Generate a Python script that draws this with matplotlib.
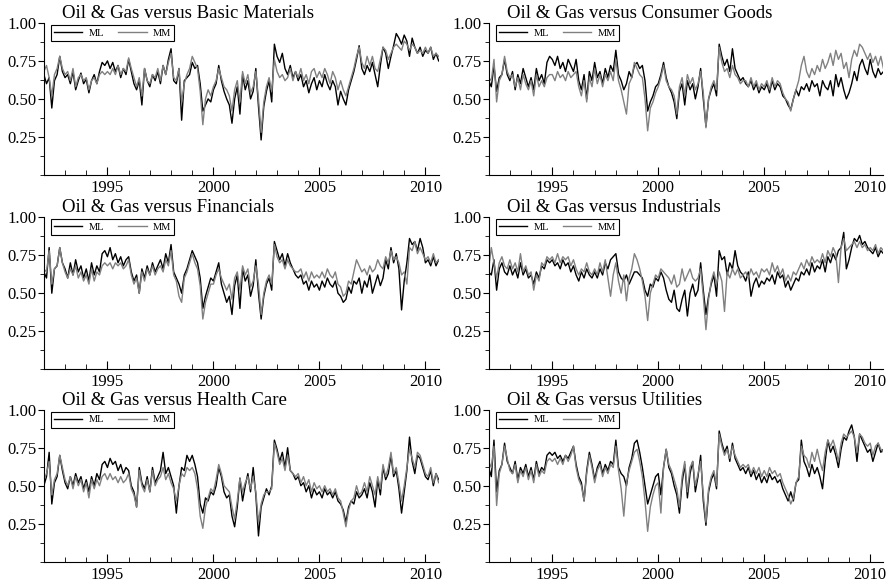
'''
Oil & Gas sector correlation plot

Plot the ML and MM estimates of the correlation between the Oil & Gas
sector and other sectors, one panel per sector pair.
'''

# -----------------------------------------------------------------------------------------------------------------------
# Modules

from matplotlib import pyplot as plt
from matplotlib.ticker import MultipleLocator
import numpy as np

# -----------------------------------------------------------------------------------------------------------------------
# Data (one value every 1/8 year, from 1992.0)

start_year = 1992.0
step = 0.125

sectors = ['Basic Materials', 'Consumer Goods', 'Financials',
           'Industrials', 'Health Care', 'Utilities']

basic_ml = [
    0.66, 0.60, 0.64, 0.44, 0.62, 0.66, 0.78, 0.68,
    0.64, 0.66, 0.60, 0.68, 0.56, 0.62, 0.67, 0.60,
    0.63, 0.54, 0.62, 0.66, 0.60, 0.68, 0.74, 0.72,
    0.75, 0.70, 0.74, 0.68, 0.72, 0.64, 0.70, 0.66,
    0.76, 0.68, 0.60, 0.56, 0.62, 0.46, 0.70, 0.62,
    0.58, 0.66, 0.62, 0.68, 0.60, 0.72, 0.66, 0.76,
    0.83, 0.62, 0.60, 0.70, 0.36, 0.62, 0.64, 0.66,
    0.74, 0.70, 0.72, 0.60, 0.42, 0.46, 0.50, 0.48,
    0.56, 0.60, 0.72, 0.62, 0.55, 0.50, 0.46, 0.34,
    0.50, 0.58, 0.40, 0.66, 0.56, 0.62, 0.50, 0.55,
    0.70, 0.45, 0.23, 0.45, 0.55, 0.62, 0.48, 0.86,
    0.78, 0.74, 0.80, 0.70, 0.66, 0.72, 0.64, 0.68,
    0.62, 0.66, 0.58, 0.62, 0.54, 0.60, 0.64, 0.56,
    0.62, 0.58, 0.66, 0.60, 0.56, 0.62, 0.58, 0.46,
    0.55, 0.50, 0.46, 0.56, 0.62, 0.68, 0.76, 0.85,
    0.70, 0.66, 0.72, 0.68, 0.74, 0.66, 0.58, 0.72,
    0.84, 0.80, 0.70, 0.78, 0.85, 0.93, 0.90, 0.86,
    0.92, 0.88, 0.78, 0.90, 0.84, 0.80, 0.84, 0.78,
    0.82, 0.80, 0.84, 0.76, 0.80, 0.75]
basic_mm = [
    0.68, 0.72, 0.64, 0.52, 0.66, 0.70, 0.78, 0.70,
    0.66, 0.68, 0.62, 0.70, 0.58, 0.64, 0.66, 0.62,
    0.64, 0.56, 0.62, 0.64, 0.60, 0.66, 0.68, 0.66,
    0.68, 0.66, 0.70, 0.66, 0.72, 0.66, 0.70, 0.68,
    0.77, 0.70, 0.64, 0.58, 0.64, 0.52, 0.70, 0.62,
    0.60, 0.66, 0.64, 0.70, 0.62, 0.72, 0.66, 0.74,
    0.80, 0.64, 0.62, 0.70, 0.48, 0.60, 0.66, 0.70,
    0.78, 0.74, 0.70, 0.55, 0.33, 0.50, 0.56, 0.52,
    0.58, 0.62, 0.70, 0.64, 0.58, 0.56, 0.52, 0.42,
    0.56, 0.62, 0.48, 0.68, 0.60, 0.66, 0.54, 0.58,
    0.68, 0.50, 0.28, 0.48, 0.58, 0.64, 0.55, 0.76,
    0.68, 0.64, 0.66, 0.62, 0.64, 0.70, 0.62, 0.68,
    0.64, 0.70, 0.62, 0.66, 0.60, 0.68, 0.70, 0.64,
    0.68, 0.64, 0.70, 0.66, 0.60, 0.68, 0.64, 0.56,
    0.62, 0.56, 0.52, 0.58, 0.64, 0.70, 0.78, 0.84,
    0.74, 0.70, 0.78, 0.72, 0.78, 0.70, 0.68, 0.76,
    0.84, 0.82, 0.76, 0.80, 0.84, 0.86, 0.84, 0.82,
    0.88, 0.86, 0.82, 0.86, 0.84, 0.80, 0.82, 0.80,
    0.84, 0.80, 0.84, 0.78, 0.80, 0.78]

consumer_ml = [
    0.62, 0.58, 0.72, 0.55, 0.64, 0.66, 0.76, 0.66,
    0.62, 0.68, 0.56, 0.66, 0.60, 0.70, 0.64, 0.58,
    0.64, 0.56, 0.70, 0.62, 0.66, 0.60, 0.74, 0.78,
    0.76, 0.72, 0.78, 0.70, 0.74, 0.68, 0.76, 0.72,
    0.68, 0.76, 0.62, 0.56, 0.66, 0.50, 0.68, 0.62,
    0.74, 0.64, 0.68, 0.60, 0.70, 0.64, 0.72, 0.68,
    0.82, 0.66, 0.62, 0.56, 0.60, 0.68, 0.64, 0.72,
    0.74, 0.70, 0.72, 0.62, 0.42, 0.48, 0.52, 0.58,
    0.60, 0.66, 0.74, 0.64, 0.58, 0.54, 0.48, 0.37,
    0.55, 0.60, 0.46, 0.62, 0.56, 0.60, 0.50, 0.58,
    0.70, 0.50, 0.32, 0.50, 0.56, 0.60, 0.52, 0.86,
    0.78, 0.72, 0.76, 0.68, 0.83, 0.70, 0.66, 0.62,
    0.64, 0.60, 0.58, 0.62, 0.56, 0.60, 0.54, 0.58,
    0.56, 0.60, 0.54, 0.62, 0.56, 0.60, 0.58, 0.52,
    0.50, 0.46, 0.43, 0.50, 0.56, 0.52, 0.58, 0.56,
    0.60, 0.55, 0.62, 0.58, 0.60, 0.52, 0.62, 0.58,
    0.56, 0.62, 0.52, 0.66, 0.58, 0.64, 0.56, 0.50,
    0.54, 0.60, 0.68, 0.62, 0.72, 0.76, 0.70, 0.66,
    0.76, 0.68, 0.64, 0.70, 0.66, 0.68]
consumer_mm = [
    0.64, 0.62, 0.76, 0.48, 0.62, 0.66, 0.78, 0.68,
    0.64, 0.66, 0.58, 0.64, 0.56, 0.66, 0.60, 0.56,
    0.62, 0.52, 0.66, 0.58, 0.62, 0.58, 0.64, 0.66,
    0.66, 0.62, 0.68, 0.64, 0.66, 0.62, 0.68, 0.64,
    0.66, 0.68, 0.58, 0.52, 0.62, 0.48, 0.64, 0.58,
    0.70, 0.60, 0.66, 0.58, 0.66, 0.62, 0.68, 0.62,
    0.76, 0.62, 0.56, 0.48, 0.40, 0.60, 0.64, 0.74,
    0.70, 0.66, 0.64, 0.50, 0.29, 0.44, 0.48, 0.54,
    0.58, 0.64, 0.72, 0.62, 0.58, 0.56, 0.52, 0.40,
    0.58, 0.64, 0.52, 0.66, 0.60, 0.64, 0.56, 0.60,
    0.68, 0.54, 0.31, 0.50, 0.58, 0.62, 0.56, 0.84,
    0.74, 0.68, 0.70, 0.64, 0.72, 0.66, 0.64, 0.60,
    0.62, 0.62, 0.58, 0.64, 0.58, 0.62, 0.56, 0.60,
    0.58, 0.62, 0.56, 0.64, 0.58, 0.62, 0.60, 0.54,
    0.50, 0.48, 0.42, 0.50, 0.56, 0.62, 0.72, 0.78,
    0.68, 0.64, 0.70, 0.66, 0.72, 0.68, 0.76, 0.70,
    0.74, 0.80, 0.72, 0.82, 0.76, 0.80, 0.70, 0.74,
    0.64, 0.76, 0.82, 0.78, 0.86, 0.84, 0.80, 0.76,
    0.80, 0.74, 0.78, 0.72, 0.78, 0.70]

financials_ml = [
    0.64, 0.60, 0.80, 0.50, 0.66, 0.68, 0.80, 0.70,
    0.66, 0.60, 0.70, 0.62, 0.72, 0.64, 0.68, 0.60,
    0.66, 0.58, 0.70, 0.62, 0.68, 0.64, 0.76, 0.78,
    0.74, 0.80, 0.72, 0.76, 0.70, 0.74, 0.68, 0.72,
    0.74, 0.64, 0.58, 0.62, 0.50, 0.66, 0.60, 0.68,
    0.62, 0.70, 0.64, 0.68, 0.72, 0.66, 0.76, 0.70,
    0.82, 0.64, 0.60, 0.56, 0.50, 0.62, 0.66, 0.72,
    0.78, 0.74, 0.70, 0.60, 0.40, 0.48, 0.54, 0.60,
    0.58, 0.64, 0.70, 0.56, 0.50, 0.44, 0.48, 0.36,
    0.55, 0.62, 0.40, 0.66, 0.58, 0.62, 0.48, 0.55,
    0.72, 0.50, 0.33, 0.48, 0.56, 0.60, 0.52, 0.84,
    0.78, 0.72, 0.76, 0.68, 0.76, 0.70, 0.66, 0.62,
    0.60, 0.62, 0.56, 0.58, 0.52, 0.58, 0.54, 0.56,
    0.52, 0.58, 0.54, 0.60, 0.56, 0.54, 0.58, 0.50,
    0.48, 0.44, 0.46, 0.54, 0.50, 0.58, 0.56, 0.60,
    0.50, 0.58, 0.54, 0.62, 0.50, 0.56, 0.62, 0.55,
    0.60, 0.72, 0.66, 0.80, 0.70, 0.76, 0.66, 0.39,
    0.58, 0.70, 0.86, 0.82, 0.84, 0.78, 0.86, 0.80,
    0.70, 0.72, 0.68, 0.74, 0.68, 0.72]
financials_mm = [
    0.66, 0.64, 0.78, 0.56, 0.66, 0.68, 0.80, 0.70,
    0.64, 0.60, 0.66, 0.62, 0.68, 0.60, 0.64, 0.58,
    0.62, 0.56, 0.66, 0.58, 0.64, 0.62, 0.68, 0.70,
    0.68, 0.70, 0.66, 0.70, 0.68, 0.70, 0.66, 0.68,
    0.72, 0.62, 0.56, 0.60, 0.50, 0.64, 0.58, 0.66,
    0.62, 0.68, 0.62, 0.66, 0.68, 0.64, 0.72, 0.68,
    0.78, 0.62, 0.58, 0.48, 0.44, 0.60, 0.64, 0.70,
    0.76, 0.70, 0.66, 0.55, 0.33, 0.44, 0.50, 0.56,
    0.56, 0.62, 0.66, 0.60, 0.56, 0.52, 0.56, 0.46,
    0.60, 0.64, 0.52, 0.68, 0.62, 0.66, 0.54, 0.58,
    0.68, 0.56, 0.36, 0.50, 0.58, 0.62, 0.56, 0.82,
    0.74, 0.70, 0.72, 0.66, 0.72, 0.68, 0.66, 0.64,
    0.64, 0.66, 0.60, 0.64, 0.58, 0.64, 0.60, 0.62,
    0.60, 0.64, 0.60, 0.66, 0.62, 0.60, 0.64, 0.56,
    0.54, 0.48, 0.50, 0.58, 0.56, 0.64, 0.72, 0.68,
    0.64, 0.66, 0.62, 0.68, 0.64, 0.66, 0.72, 0.68,
    0.66, 0.74, 0.70, 0.78, 0.72, 0.74, 0.70, 0.62,
    0.64, 0.56, 0.80, 0.78, 0.84, 0.76, 0.80, 0.76,
    0.72, 0.74, 0.70, 0.76, 0.70, 0.72]

industrials_ml = [
    0.64, 0.62, 0.72, 0.52, 0.66, 0.70, 0.64, 0.62,
    0.68, 0.62, 0.66, 0.60, 0.70, 0.62, 0.66, 0.60,
    0.62, 0.56, 0.64, 0.60, 0.68, 0.66, 0.72, 0.70,
    0.72, 0.68, 0.70, 0.66, 0.72, 0.68, 0.70, 0.64,
    0.68, 0.62, 0.58, 0.64, 0.60, 0.66, 0.62, 0.60,
    0.64, 0.60, 0.66, 0.62, 0.70, 0.66, 0.72, 0.74,
    0.76, 0.64, 0.60, 0.58, 0.62, 0.56, 0.60, 0.64,
    0.64, 0.62, 0.60, 0.52, 0.48, 0.56, 0.54, 0.60,
    0.58, 0.64, 0.60, 0.52, 0.46, 0.44, 0.52, 0.40,
    0.38, 0.46, 0.52, 0.35, 0.50, 0.56, 0.48, 0.52,
    0.70, 0.52, 0.36, 0.48, 0.56, 0.62, 0.48, 0.78,
    0.72, 0.74, 0.62, 0.70, 0.66, 0.78, 0.68, 0.64,
    0.62, 0.58, 0.64, 0.48, 0.56, 0.60, 0.54, 0.58,
    0.56, 0.60, 0.58, 0.62, 0.56, 0.64, 0.60, 0.62,
    0.54, 0.58, 0.52, 0.56, 0.60, 0.58, 0.64, 0.62,
    0.66, 0.62, 0.70, 0.64, 0.68, 0.66, 0.72, 0.64,
    0.74, 0.70, 0.76, 0.72, 0.78, 0.80, 0.90, 0.66,
    0.72, 0.80, 0.86, 0.84, 0.88, 0.82, 0.84, 0.80,
    0.78, 0.76, 0.80, 0.74, 0.78, 0.76]
industrials_mm = [
    0.66, 0.80, 0.70, 0.60, 0.70, 0.74, 0.68, 0.66,
    0.72, 0.66, 0.70, 0.64, 0.76, 0.64, 0.68, 0.62,
    0.64, 0.52, 0.62, 0.58, 0.70, 0.68, 0.74, 0.72,
    0.74, 0.70, 0.76, 0.70, 0.74, 0.72, 0.74, 0.68,
    0.72, 0.66, 0.62, 0.66, 0.64, 0.70, 0.64, 0.62,
    0.66, 0.62, 0.70, 0.64, 0.72, 0.60, 0.48, 0.62,
    0.70, 0.58, 0.50, 0.62, 0.45, 0.60, 0.66, 0.76,
    0.72, 0.66, 0.58, 0.48, 0.32, 0.50, 0.56, 0.62,
    0.60, 0.66, 0.64, 0.62, 0.60, 0.56, 0.62, 0.54,
    0.56, 0.66, 0.58, 0.62, 0.66, 0.60, 0.58, 0.60,
    0.66, 0.48, 0.26, 0.46, 0.58, 0.64, 0.56, 0.64,
    0.58, 0.38, 0.64, 0.60, 0.66, 0.62, 0.66, 0.60,
    0.62, 0.64, 0.60, 0.66, 0.62, 0.64, 0.60, 0.66,
    0.64, 0.66, 0.62, 0.70, 0.64, 0.68, 0.62, 0.66,
    0.58, 0.62, 0.58, 0.64, 0.62, 0.66, 0.70, 0.66,
    0.72, 0.68, 0.74, 0.70, 0.72, 0.70, 0.76, 0.70,
    0.78, 0.74, 0.80, 0.76, 0.57, 0.80, 0.86, 0.78,
    0.80, 0.82, 0.84, 0.80, 0.84, 0.80, 0.82, 0.78,
    0.80, 0.78, 0.82, 0.76, 0.80, 0.78]

health_ml = [
    0.50, 0.56, 0.72, 0.38, 0.52, 0.56, 0.70, 0.60,
    0.52, 0.48, 0.56, 0.50, 0.58, 0.52, 0.56, 0.48,
    0.54, 0.46, 0.56, 0.50, 0.58, 0.54, 0.64, 0.66,
    0.62, 0.68, 0.64, 0.66, 0.60, 0.64, 0.58, 0.62,
    0.60, 0.50, 0.46, 0.36, 0.62, 0.52, 0.48, 0.56,
    0.46, 0.62, 0.52, 0.56, 0.60, 0.72, 0.58, 0.62,
    0.56, 0.50, 0.32, 0.50, 0.62, 0.60, 0.70, 0.66,
    0.70, 0.64, 0.56, 0.38, 0.32, 0.42, 0.40, 0.46,
    0.44, 0.50, 0.62, 0.56, 0.46, 0.42, 0.44, 0.30,
    0.23, 0.36, 0.55, 0.40, 0.50, 0.58, 0.46, 0.62,
    0.44, 0.17, 0.36, 0.42, 0.48, 0.44, 0.50, 0.80,
    0.74, 0.66, 0.72, 0.62, 0.75, 0.60, 0.58, 0.54,
    0.56, 0.50, 0.52, 0.46, 0.50, 0.42, 0.48, 0.44,
    0.46, 0.42, 0.48, 0.44, 0.46, 0.42, 0.46, 0.40,
    0.38, 0.34, 0.26, 0.36, 0.40, 0.38, 0.46, 0.42,
    0.44, 0.48, 0.42, 0.52, 0.46, 0.36, 0.54, 0.44,
    0.62, 0.54, 0.58, 0.70, 0.56, 0.60, 0.48, 0.32,
    0.46, 0.60, 0.82, 0.66, 0.58, 0.70, 0.68, 0.62,
    0.56, 0.54, 0.60, 0.50, 0.58, 0.54]
health_mm = [
    0.54, 0.58, 0.66, 0.44, 0.54, 0.58, 0.70, 0.62,
    0.54, 0.50, 0.56, 0.48, 0.56, 0.50, 0.54, 0.46,
    0.52, 0.42, 0.54, 0.48, 0.54, 0.50, 0.56, 0.58,
    0.54, 0.58, 0.54, 0.56, 0.52, 0.56, 0.52, 0.54,
    0.58, 0.48, 0.44, 0.36, 0.60, 0.50, 0.46, 0.54,
    0.46, 0.60, 0.50, 0.54, 0.56, 0.62, 0.54, 0.58,
    0.52, 0.48, 0.40, 0.50, 0.58, 0.56, 0.62, 0.60,
    0.62, 0.58, 0.48, 0.30, 0.22, 0.36, 0.42, 0.48,
    0.46, 0.54, 0.64, 0.58, 0.50, 0.48, 0.46, 0.36,
    0.28, 0.40, 0.55, 0.46, 0.52, 0.56, 0.48, 0.56,
    0.46, 0.26, 0.38, 0.44, 0.46, 0.46, 0.48, 0.78,
    0.72, 0.64, 0.68, 0.60, 0.70, 0.60, 0.58, 0.56,
    0.58, 0.52, 0.56, 0.50, 0.54, 0.46, 0.52, 0.48,
    0.50, 0.46, 0.50, 0.46, 0.48, 0.44, 0.48, 0.42,
    0.40, 0.32, 0.23, 0.34, 0.40, 0.42, 0.50, 0.44,
    0.46, 0.52, 0.46, 0.56, 0.50, 0.44, 0.56, 0.48,
    0.64, 0.56, 0.62, 0.72, 0.58, 0.62, 0.52, 0.40,
    0.50, 0.62, 0.74, 0.68, 0.62, 0.72, 0.70, 0.64,
    0.58, 0.56, 0.62, 0.52, 0.58, 0.52]

utilities_ml = [
    0.62, 0.56, 0.80, 0.46, 0.60, 0.64, 0.78, 0.66,
    0.62, 0.58, 0.66, 0.54, 0.62, 0.58, 0.64, 0.56,
    0.62, 0.54, 0.66, 0.58, 0.62, 0.60, 0.70, 0.72,
    0.70, 0.72, 0.68, 0.70, 0.66, 0.70, 0.68, 0.72,
    0.76, 0.64, 0.56, 0.52, 0.40, 0.60, 0.72, 0.64,
    0.54, 0.62, 0.66, 0.58, 0.64, 0.60, 0.66, 0.64,
    0.80, 0.62, 0.58, 0.56, 0.50, 0.62, 0.68, 0.78,
    0.80, 0.72, 0.62, 0.50, 0.38, 0.44, 0.50, 0.56,
    0.58, 0.44, 0.62, 0.74, 0.62, 0.58, 0.50, 0.44,
    0.32, 0.52, 0.64, 0.42, 0.58, 0.66, 0.46, 0.56,
    0.70, 0.40, 0.24, 0.46, 0.54, 0.58, 0.48, 0.86,
    0.78, 0.72, 0.76, 0.66, 0.78, 0.68, 0.64, 0.60,
    0.62, 0.58, 0.62, 0.56, 0.60, 0.54, 0.58, 0.52,
    0.56, 0.52, 0.58, 0.54, 0.56, 0.52, 0.54, 0.48,
    0.44, 0.40, 0.46, 0.40, 0.52, 0.54, 0.80, 0.66,
    0.62, 0.56, 0.64, 0.58, 0.62, 0.56, 0.48, 0.66,
    0.80, 0.72, 0.76, 0.70, 0.62, 0.74, 0.82, 0.80,
    0.86, 0.90, 0.82, 0.66, 0.84, 0.80, 0.76, 0.72,
    0.74, 0.66, 0.72, 0.78, 0.72, 0.74]
utilities_mm = [
    0.66, 0.62, 0.76, 0.37, 0.58, 0.64, 0.76, 0.68,
    0.60, 0.58, 0.64, 0.52, 0.60, 0.56, 0.62, 0.54,
    0.60, 0.52, 0.64, 0.56, 0.60, 0.58, 0.66, 0.68,
    0.66, 0.68, 0.64, 0.68, 0.64, 0.70, 0.66, 0.70,
    0.76, 0.62, 0.54, 0.50, 0.40, 0.58, 0.70, 0.62,
    0.52, 0.60, 0.64, 0.56, 0.62, 0.58, 0.64, 0.62,
    0.76, 0.60, 0.48, 0.30, 0.52, 0.60, 0.66, 0.72,
    0.74, 0.66, 0.56, 0.40, 0.20, 0.36, 0.44, 0.50,
    0.52, 0.32, 0.62, 0.74, 0.64, 0.60, 0.54, 0.48,
    0.36, 0.56, 0.66, 0.46, 0.62, 0.66, 0.50, 0.58,
    0.66, 0.44, 0.26, 0.48, 0.56, 0.60, 0.50, 0.84,
    0.76, 0.70, 0.74, 0.68, 0.76, 0.70, 0.66, 0.62,
    0.64, 0.62, 0.64, 0.58, 0.62, 0.58, 0.62, 0.56,
    0.60, 0.56, 0.62, 0.58, 0.60, 0.56, 0.58, 0.52,
    0.48, 0.44, 0.38, 0.42, 0.52, 0.56, 0.76, 0.70,
    0.68, 0.62, 0.72, 0.66, 0.74, 0.66, 0.60, 0.72,
    0.80, 0.76, 0.80, 0.74, 0.66, 0.78, 0.84, 0.82,
    0.84, 0.86, 0.82, 0.72, 0.84, 0.82, 0.78, 0.76,
    0.78, 0.70, 0.76, 0.78, 0.74, 0.72]

ml_series = [basic_ml, consumer_ml, financials_ml,
             industrials_ml, health_ml, utilities_ml]
mm_series = [basic_mm, consumer_mm, financials_mm,
             industrials_mm, health_mm, utilities_mm]

# -----------------------------------------------------------------------------------------------------------------------


def sector_panel_plot(ax, sector, ml, mm):
    """
    Plot the ML and MM correlation for one sector pair in one axes.
        :param ax: axes to draw on
        :param sector: name of the sector compared with Oil & Gas
        :param ml: list with the ML values
        :param mm: list with the MM values
    """

    time = start_year + step * np.arange(len(ml))

    ax.plot(time, ml, color='black', lw=1.0, label='ML')
    ax.plot(time, mm, color='0.5', lw=1.0, label='MM')

    ax.set_xlim(1992.0, 2010.62)
    ax.set_ylim(0, 1.0)

    ax.xaxis.set_major_locator(MultipleLocator(5))
    ax.xaxis.set_minor_locator(MultipleLocator(1))
    ax.set_yticks([0.25, 0.5, 0.75, 1.0])
    ax.set_yticklabels(['0.25', '0.50', '0.75', '1.00'])
    ax.yaxis.set_minor_locator(MultipleLocator(0.125))

    ax.tick_params(axis='x', which='both', direction='in', labelsize=12,
                   pad=3.5)
    ax.tick_params(axis='x', which='major', length=6)
    ax.tick_params(axis='x', which='minor', length=3.5)
    ax.tick_params(axis='y', which='both', direction='out', labelsize=12,
                   pad=0.5)
    ax.tick_params(axis='y', which='major', length=4.5)
    ax.tick_params(axis='y', which='minor', length=3)

    ax.spines['top'].set_visible(False)
    ax.spines['right'].set_visible(False)

    ax.text(0.046, 1.033, 'Oil & Gas versus {}'.format(sector),
            transform=ax.transAxes, fontsize=13.5, va='baseline', ha='left')

    legend = ax.legend(loc='upper left', bbox_to_anchor=(0.018, 0.985),
                       ncol=2, fontsize=7.5, handlelength=2.7,
                       handletextpad=0.6, columnspacing=1.4, borderpad=0.3,
                       borderaxespad=0, fancybox=False, framealpha=1)
    legend.get_frame().set_edgecolor('black')
    legend.get_frame().set_linewidth(0.8)

    return None

# -----------------------------------------------------------------------------------------------------------------------


def main():

    plt.rcParams['font.family'] = ['Liberation Serif', 'DejaVu Serif']

    figure = plt.figure(figsize=(8.95, 5.87), dpi=100)

    lefts = [0.049, 0.546]
    bottoms = [0.702, 0.371, 0.043]

    for idx, sector in enumerate(sectors):
        row = idx // 2
        col = idx % 2
        ax = figure.add_axes([lefts[col], bottoms[row], 0.441, 0.259])
        sector_panel_plot(ax, sector, ml_series[idx], mm_series[idx])

    figure.savefig('out.png', dpi=100)

    return None

# -----------------------------------------------------------------------------------------------------------------------


if __name__ == '__main__':
    main()
